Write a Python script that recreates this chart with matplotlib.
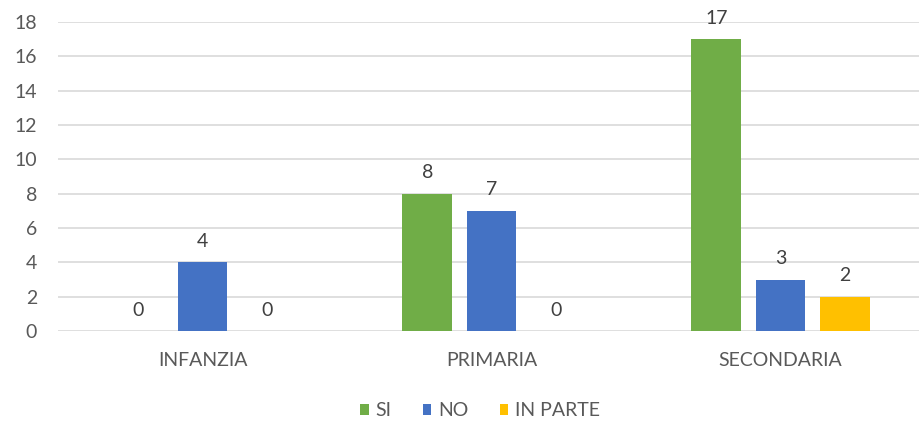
import matplotlib
matplotlib.use("Agg")
import matplotlib.pyplot as plt
import numpy as np

categories = ["INFANZIA", "PRIMARIA", "SECONDARIA"]
series_names = ["SI", "NO", "IN PARTE"]
si = [0, 8, 17]
no = [4, 7, 3]
in_parte = [0, 0, 2]
colors = ["#70AD47", "#4472C4", "#FFC000"]
yticks = list(range(0, 19, 2))

plt.rcParams['font.family'] = ['Lato', 'DejaVu Sans']

fig = plt.figure(figsize=(9.2, 4.24), dpi=100)
ax = fig.add_axes([58/920, 93/424, (925-58)/920, 309/424])

x = np.arange(len(categories))
w = 0.172
off = 0.222
for i, (vals, name, c) in enumerate(zip([si, no, in_parte], series_names, colors)):
    pos = x + (i - 1) * off
    ax.bar(pos, vals, width=w, color=c, label=name, zorder=3)
    for p, v in zip(pos, vals):
        ax.annotate(str(v), (p, v), xytext=(0, 9), textcoords="offset points",
                    ha="center", va="bottom", fontsize=14, color="#404040")

ax.set_xlim(-0.5, 2.5)
ax.set_ylim(0, 18)
ax.set_yticks(yticks)
ax.set_xticks(x)
ax.set_xticklabels(categories)
ax.grid(axis="y", color="#d9d9d9", linewidth=1.2, zorder=0)
for s in ax.spines.values():
    s.set_visible(False)
ax.tick_params(axis="both", length=0, labelsize=14, colors="#595959")
ax.tick_params(axis="y", pad=15)
ax.tick_params(axis="x", pad=15)

leg = fig.legend(loc="center", bbox_to_anchor=(480/920, 1 - 411/424), ncol=3,
                 frameon=False, fontsize=14, handlelength=0.45, handleheight=0.45,
                 columnspacing=1.6, handletextpad=0.35)
for t in leg.get_texts():
    t.set_color("#595959")

fig.savefig("out.png", dpi=100, facecolor="white")
